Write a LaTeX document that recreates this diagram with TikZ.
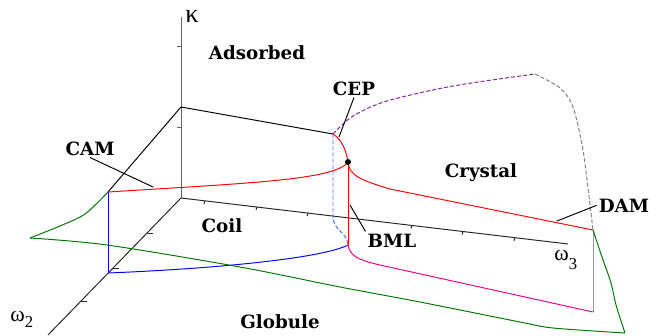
\documentclass[tikz,border=0pt]{standalone}
\usepackage{fontspec}
\setmainfont{DejaVu Serif}
\newfontfamily\greekfont{Liberation Serif}
\newcommand{\mygreen}{green!47!black}
\newcommand{\mypurple}{blue!60!red!85!white}
\newcommand{\mylightblue}{blue!80!cyan!70!white}
\newcommand{\myaxisgray}{black!60}

\begin{document}
\begin{tikzpicture}[x = 0.02cm, y = -0.02cm, line width = 0.55pt]
\tikzset{lbl/.style = {font = \fontsize{10.4}{12}\selectfont\bfseries, inner sep = 1pt, anchor = base},
         grk/.style = {font = \fontsize{12.5}{14}\selectfont\greekfont, inner sep = 0pt, anchor = base west}}
\useasboundingbox (0,0) rectangle (663,335);
\begin{scope}
\coordinate (O) at (181,198);
\coordinate (ktop) at (181,17);
\coordinate (w3end) at (568,244);
\coordinate (w2end) at (48,335);
\draw[\myaxisgray] (O) -- (ktop);
\draw[black!85] (O) -- (w3end);
\draw[black!85] (O) -- (w2end);
\foreach \k in {46,127} \draw[\myaxisgray] (181,\k) -- ++(-4,0);
\foreach \t in {205,257,308,412,463,515} \draw[black!85] (\t,{198+0.119*(\t-181)}) -- ++(-1,3);
\foreach \t in {233,268,301} \draw[black!85] ({181-0.971*(\t-198)},\t) -- ++(6,0);
\end{scope}
\begin{scope}
\coordinate (B) at (181,107);
\coordinate (cepp) at (333,134);
\coordinate (dot) at (348,162);
\coordinate (low) at (348,245);
\coordinate (camtop) at (108,192);
\coordinate (cambot) at (108,273);
\coordinate (damtop) at (593,230);
\coordinate (dambot) at (593,312);
\coordinate (gcorner) at (625,333);
\coordinate (gleft) at (30,238);
\coordinate (peak) at (535,74);
\draw (B) -- (cepp);
\draw (B) -- (camtop);
\draw[blue] (camtop) -- (cambot);
\draw[blue] (cambot) .. controls (230,268) and (325,257) .. (low);
\draw[\mylightblue, dash pattern = on 2.3pt off 1.2pt] (cepp) -- (333,217) .. controls (333,230) and (347,232) .. (low);
\draw[\mypurple, dash pattern = on 2.3pt off 1.2pt] plot[smooth] coordinates {(333,134) (353,116) (387,101) (453,86) (535,74)};
\draw[black!50, dash pattern = on 2.3pt off 1.2pt] plot[smooth] coordinates {(535,74) (560,88) (573,107) (583,150) (590,205) (593,230)};
\draw[black!40] (damtop) -- (dambot);
\draw[red] (camtop) .. controls (250,183) and (335,180) .. (dot);
\draw[red] (cepp) .. controls (342,140) and (346,150) .. (dot);
\draw[red] (dot) .. controls (349,175) and (360,180) .. (390,189) -- (damtop);
\draw[red] (dot) -- (low);
\draw[magenta] (low) .. controls (350,256) and (358,260) .. (380,265) -- (dambot);
\draw[\mygreen] plot[smooth] coordinates {(593,230) (602,257) (611,283) (616,305) (625,333)};
\draw[\mygreen] plot[smooth] coordinates {(625,333) (553,328) (520,322) (420,302) (340,287) (240,267) (107,245) (30,238)};
\draw[\mygreen] plot[smooth] coordinates {(30,238) (60,226) (85,214) (108,192)};
\fill (dot) circle (3);
\end{scope}
\node[lbl] (adsorbed) at (257,59) {Adsorbed};
\node[lbl] (cep) at (354,95) {CEP};
\node[lbl] (cam) at (90,155) {CAM};
\node[lbl] (crystal) at (481,177) {Crystal};
\node[lbl] (dam) at (624,212) {DAM};
\node[lbl] (coil) at (222,232) {Coil};
\node[lbl] (bml) at (392,247) {BML};
\node[lbl] (globule) at (280,328) {Globule};
\node[grk, font = \fontsize{15}{17}\selectfont\greekfont] (kappa) at (185,22) {κ};
\node[grk] (omega3) at (554,260) {ω\raisebox{-5.5pt}{\fontsize{9.5}{11}\selectfont 3}};
\node[grk] (omega2) at (10,321) {ω\raisebox{-3.5pt}{\fontsize{9.5}{11}\selectfont 2}};
\coordinate (camtip) at (153,187);
\coordinate (ceptip) at (339,137);
\coordinate (bmltip) at (350,205);
\coordinate (damtip) at (557,221);
\draw (cam.south) -- (camtip);
\draw (cep.south) -- (ceptip);
\draw (bml.north west) -- (bmltip);
\draw (dam.west) -- (damtip);
\end{tikzpicture}
\end{document}
